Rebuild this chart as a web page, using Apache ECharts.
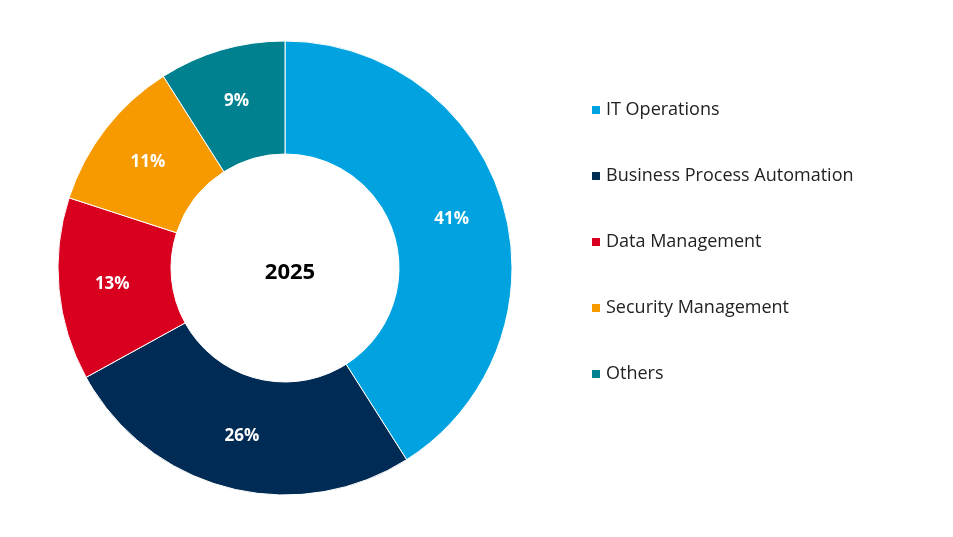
<!DOCTYPE html>
<html lang="en">
<head>
  <meta charset="UTF-8">
  <title>2025</title>
  <script src="https://cdn.jsdelivr.net/npm/echarts@6/dist/echarts.min.js"></script>
  <style>
    html, body { margin: 0; background: #fff; }
    #main { width: 953px; height: 537px; }
  </style>
</head>
<body>
  <div id="main"></div>
  <script>
    var categories = ['IT Operations', 'Business Process Automation', 'Data Management', 'Security Management', 'Others']
    var shares = [41, 26, 13, 11, 9]
    var colors = ['#00A3E0', '#002B54', '#D8001E', '#F79A00', '#00818F']

    var myChart = echarts.init(document.getElementById('main'))
    var option = {
      color: colors,
      title: {
        text: '2025',
        left: 285,
        top: 268,
        textAlign: 'center',
        textVerticalAlign: 'middle',
        textStyle: { fontFamily: 'Open Sans', fontWeight: 'bold', fontSize: 22, color: '#000' }
      },
      legend: {
        orient: 'vertical',
        left: 585,
        top: 96,
        itemGap: 48,
        itemWidth: 10,
        itemHeight: 10,
        icon: 'rect',
        textStyle: { fontFamily: 'Open Sans', fontSize: 18, color: '#222' },
        data: categories
      },
      series: [
        {
          type: 'pie',
          center: [285, 268],
          radius: [114, 227],
          startAngle: 90,
          clockwise: true,
          avoidLabelOverlap: false,
          itemStyle: { borderColor: '#fff', borderWidth: 1 },
          label: {
            position: 'inside',
            formatter: '{c}%',
            color: '#fff',
            fontFamily: 'Open Sans',
            fontWeight: 'bold',
            fontSize: 17
          },
          labelLine: { show: false },
          data: categories.map((c, i) => ({ name: c, value: shares[i] }))
        }
      ]
    }
    myChart.setOption(option)
  </script>
</body>
</html>
